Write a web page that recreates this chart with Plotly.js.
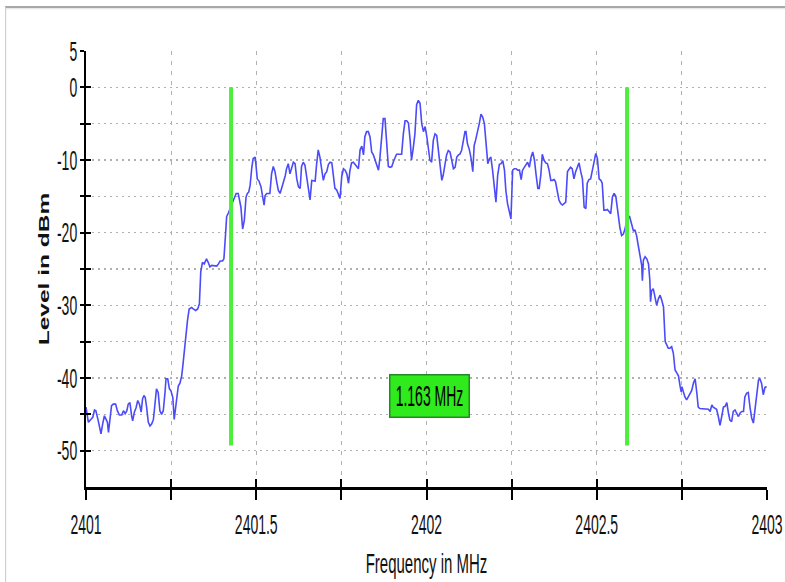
<!DOCTYPE html>
<html>
<head>
<meta charset="utf-8">
<script src="https://cdn.plot.ly/plotly-3.0.1.min.js"></script>
<style>
  html, body { margin: 0; padding: 0; background: #ffffff; }
  #frame { position: absolute; left: 5px; top: 6px; width: 800px; height: 600px;
           border-top: 2px solid #a8a8a8; border-left: 1px solid #cfcfcf;
           box-shadow: inset 0 1px 2px #e2e2e2; }
  #chart { position: absolute; left: 0; top: 0; width: 785px; height: 582px; }
</style>
</head>
<body>
<div id="frame"></div>
<div id="chart"></div>
<script>
// ---- data ----
const freqMHz = [
2401.000,2401.007,2401.014,2401.020,2401.025,2401.029,2401.036,2401.041,2401.044,2401.049,
2401.054,2401.059,2401.063,2401.066,2401.071,2401.075,2401.080,2401.087,2401.092,2401.098,
2401.105,2401.110,2401.115,2401.120,2401.124,2401.129,2401.134,2401.137,2401.142,2401.147,
2401.152,2401.157,2401.162,2401.166,2401.170,2401.174,2401.178,2401.183,2401.188,2401.193,
2401.198,2401.203,2401.207,2401.212,2401.217,2401.222,2401.227,2401.232,2401.235,2401.240,
2401.245,2401.249,2401.255,2401.259,2401.266,2401.271,2401.276,2401.281,2401.284,2401.291,
2401.298,2401.303,2401.310,2401.315,2401.322,2401.328,2401.333,2401.337,2401.342,2401.347,
2401.354,2401.359,2401.364,2401.369,2401.376,2401.384,2401.389,2401.394,2401.401,2401.405,
2401.410,2401.413,2401.418,2401.423,2401.428,2401.433,2401.441,2401.447,2401.452,2401.455,
2401.460,2401.465,2401.470,2401.474,2401.478,2401.482,2401.487,2401.491,2401.497,2401.503,
2401.508,2401.514,2401.519,2401.523,2401.526,2401.531,2401.540,2401.545,2401.550,2401.555,
2401.560,2401.565,2401.570,2401.575,2401.580,2401.585,2401.589,2401.594,2401.599,2401.604,
2401.609,2401.614,2401.619,2401.624,2401.629,2401.633,2401.638,2401.643,2401.648,2401.653,
2401.658,2401.663,2401.668,2401.673,2401.677,2401.682,2401.687,2401.692,2401.697,2401.702,
2401.707,2401.712,2401.717,2401.722,2401.726,2401.731,2401.736,2401.741,2401.746,2401.751,
2401.756,2401.761,2401.766,2401.771,2401.775,2401.780,2401.785,2401.790,2401.795,2401.800,
2401.805,2401.810,2401.815,2401.819,2401.824,2401.829,2401.834,2401.839,2401.844,2401.849,
2401.854,2401.859,2401.863,2401.868,2401.873,2401.878,2401.883,2401.888,2401.893,2401.898,
2401.903,2401.908,2401.912,2401.922,2401.927,2401.932,2401.937,2401.942,2401.947,2401.952,
2401.956,2401.961,2401.966,2401.971,2401.976,2401.981,2401.986,2401.991,2401.996,2402.001,
2402.005,2402.010,2402.015,2402.020,2402.025,2402.030,2402.035,2402.040,2402.045,2402.049,
2402.054,2402.059,2402.064,2402.069,2402.074,2402.079,2402.084,2402.089,2402.094,2402.098,
2402.103,2402.108,2402.113,2402.116,2402.120,2402.126,2402.131,2402.136,2402.140,2402.144,
2402.149,2402.155,2402.160,2402.165,2402.170,2402.175,2402.180,2402.185,2402.189,2402.194,
2402.199,2402.204,2402.209,2402.214,2402.219,2402.224,2402.229,2402.233,2402.238,2402.243,
2402.248,2402.253,2402.258,2402.263,2402.268,2402.273,2402.278,2402.282,2402.287,2402.292,
2402.297,2402.302,2402.307,2402.312,2402.317,2402.322,2402.327,2402.331,2402.336,2402.340,
2402.345,2402.350,2402.355,2402.360,2402.365,2402.370,2402.375,2402.379,2402.384,2402.389,
2402.394,2402.399,2402.404,2402.409,2402.414,2402.419,2402.423,2402.428,2402.433,2402.438,
2402.443,2402.448,2402.453,2402.458,2402.463,2402.468,2402.472,2402.477,2402.482,2402.487,
2402.492,2402.497,2402.502,2402.507,2402.512,2402.516,2402.521,2402.526,2402.531,2402.536,
2402.541,2402.546,2402.551,2402.556,2402.560,2402.568,2402.573,2402.578,2402.583,2402.588,
2402.596,2402.603,2402.608,2402.612,2402.617,2402.622,2402.627,2402.632,2402.634,2402.637,
2402.642,2402.647,2402.652,2402.656,2402.658,2402.661,2402.666,2402.671,2402.676,2402.681,
2402.686,2402.691,2402.696,2402.701,2402.705,2402.710,2402.715,2402.720,2402.725,2402.730,
2402.735,2402.740,2402.745,2402.748,2402.750,2402.754,2402.759,2402.764,2402.769,2402.774,
2402.779,2402.784,2402.789,2402.794,2402.798,2402.803,2402.813,2402.818,2402.823,2402.828,
2402.833,2402.838,2402.842,2402.847,2402.852,2402.857,2402.862,2402.867,2402.872,2402.877,
2402.882,2402.887,2402.891,2402.896,2402.901,2402.906,2402.911,2402.916,2402.921,2402.926,
2402.931,2402.935,2402.940,2402.945,2402.950,2402.955,2402.960,2402.965,2402.970,2402.975,
2402.979,2402.984,2402.989,2402.994,2402.999
];
const levelDBm = [
-44.0,-46.1,-45.7,-45.4,-44.4,-44.5,-45.9,-46.8,-47.7,-46.3,
-45.2,-45.7,-46.1,-47.5,-45.2,-43.8,-43.6,-43.6,-44.5,-45.1,
-45.1,-44.5,-44.9,-44.5,-43.6,-43.4,-45.2,-45.9,-44.7,-44.1,
-43.1,-43.6,-44.7,-42.9,-42.4,-42.7,-44.0,-46.1,-46.6,-46.3,
-45.7,-43.1,-41.5,-42.0,-44.5,-45.0,-44.5,-42.0,-40.1,-40.1,
-41.5,-41.7,-42.7,-45.7,-42.7,-41.1,-40.7,-39.7,-38.5,-34.9,
-32.1,-30.5,-30.3,-30.5,-30.7,-30.5,-29.8,-25.4,-24.1,-24.3,
-23.6,-24.1,-24.7,-24.5,-24.5,-24.6,-24.3,-23.9,-23.9,-23.6,
-20.1,-17.8,-17.3,-16.7,-16.0,-15.3,-14.6,-14.6,-15.8,-16.5,
-19.5,-18.3,-15.1,-14.6,-14.4,-13.5,-11.0,-9.8,-9.6,-12.6,
-12.9,-13.7,-15.1,-16.2,-14.9,-14.6,-14.6,-11.9,-10.9,-11.6,
-13.0,-14.2,-14.6,-13.9,-13.1,-12.2,-11.2,-10.5,-11.9,-10.9,
-10.3,-10.5,-12.6,-13.7,-13.9,-10.9,-10.3,-10.7,-12.1,-13.9,
-15.5,-12.8,-12.8,-12.9,-10.7,-8.6,-9.6,-11.6,-12.8,-11.9,
-11.6,-10.6,-10.3,-10.4,-12.1,-13.9,-14.1,-14.6,-15.3,-12.3,
-11.2,-11.4,-11.9,-13.2,-11.5,-10.4,-10.3,-10.6,-11.0,-11.2,
-8.6,-8.1,-9.3,-6.8,-6.1,-6.1,-6.8,-8.9,-9.3,-10.0,
-10.7,-11.4,-9.8,-7.3,-4.3,-4.3,-7.3,-10.9,-11.0,-10.9,
-10.2,-9.6,-9.2,-9.2,-9.2,-6.4,-4.6,-4.6,-4.9,-7.3,
-10.0,-8.4,-6.4,-2.4,-1.8,-2.2,-5.0,-6.1,-5.4,-6.8,
-8.2,-10.0,-10.3,-7.3,-6.4,-6.6,-8.7,-11.2,-12.8,-12.1,
-10.5,-9.3,-8.7,-8.9,-10.0,-11.2,-11.0,-9.6,-9.3,-9.2,
-8.7,-7.3,-6.1,-6.1,-7.7,-8.6,-9.8,-11.6,-8.0,-7.3,
-6.4,-5.0,-3.7,-4.1,-5.0,-7.7,-10.5,-9.8,-9.6,-11.4,
-14.2,-15.8,-12.1,-10.6,-10.5,-10.1,-11.4,-14.2,-16.0,-16.9,
-18.1,-11.4,-11.2,-11.2,-11.4,-11.4,-12.7,-11.4,-11.0,-10.7,
-10.3,-11.0,-9.6,-8.9,-10.0,-12.1,-13.9,-13.9,-11.9,-9.2,
-10.0,-10.4,-10.5,-11.4,-12.8,-12.8,-12.7,-13.0,-14.2,-15.5,
-16.0,-16.2,-16.0,-15.8,-11.6,-11.2,-11.0,-11.2,-12.6,-11.6,
-11.0,-10.4,-11.6,-12.6,-16.5,-16.7,-13.2,-12.7,-12.6,-11.6,
-10.3,-9.1,-9.8,-12.6,-12.8,-13.2,-16.9,-16.9,-16.8,-17.1,
-17.4,-15.1,-14.6,-15.0,-16.7,-19.3,-20.4,-20.2,-19.5,-18.3,
-17.7,-18.8,-19.8,-19.6,-20.4,-21.8,-23.1,-24.5,-26.6,-23.8,
-23.3,-23.6,-24.3,-26.6,-29.5,-28.0,-27.7,-28.9,-30.0,-29.1,
-28.6,-29.3,-30.2,-35.0,-35.5,-35.9,-35.9,-35.7,-36.6,-38.9,
-39.3,-39.7,-41.2,-41.9,-41.2,-41.9,-42.6,-43.0,-42.6,-42.0,
-41.7,-40.7,-40.1,-42.1,-44.0,-44.2,-44.2,-44.3,-44.2,-44.3,
-44.6,-43.7,-44.0,-44.1,-44.3,-45.3,-46.5,-45.3,-44.0,-43.9,
-43.4,-44.9,-45.8,-46.0,-44.6,-44.4,-44.9,-45.3,-44.8,-44.6,
-44.6,-42.6,-42.1,-42.0,-44.0,-45.5,-46.2,-44.0,-42.1,-40.3,
-40.1,-40.7,-42.3,-41.3,-41.2
];
const markerFreqs = [2401.426, 2402.589];   // occupied-bandwidth markers
const markerTop = 0;
const markerBottom = -49.3;
const labelLevel = -42.5;
const xTickVals = [2401, 2401.25, 2401.5, 2401.75, 2402, 2402.25, 2402.5, 2402.75, 2403];
const xTickText = ['2401', '', '2401.5', '', '2402', '', '2402.5', '', '2403'];
const yTickVals = [5, 0, -5, -10, -15, -20, -25, -30, -35, -40, -45, -50];
const yTickText = ['5', '0', '', '-10', '', '-20', '', '-30', '', '-40', '', '-50'];
const xRange = [2401, 2403];
const yRange = [-55, 5];
const xTitle = 'Frequency in MHz';
const yTitle = 'Level in dBm';

// ---- build traces ----
const mx = [], my = [];
markerFreqs.forEach((f, i) => {
  if (i) { mx.push(null); my.push(null); }
  mx.push(f, f); my.push(markerTop, markerBottom);
});
const bw = markerFreqs[1] - markerFreqs[0];
const labelText = bw.toFixed(3) + ' MHz';
const labelX = (markerFreqs[0] + markerFreqs[1]) / 2;

const FONT = 'Liberation Sans, Arial, sans-serif';

const traces = [
  { x: freqMHz, y: levelDBm, type: 'scatter', mode: 'lines',
    line: { color: '#4b4bfa', width: 1.6 }, hoverinfo: 'skip', showlegend: false },
  { x: mx, y: my, type: 'scatter', mode: 'lines', xaxis: 'x2', yaxis: 'y2',
    line: { color: '#4cf03c', width: 4 }, hoverinfo: 'skip', showlegend: false }
];

const layout = {
  width: 785, height: 582,
  margin: { l: 86, r: 18, t: 51, b: 95 },
  paper_bgcolor: 'rgba(0,0,0,0)', plot_bgcolor: 'rgba(0,0,0,0)',
  font: { family: FONT, color: '#111111', size: 14 },
  showlegend: false,
  xaxis: {
    range: xRange, tickmode: 'array', tickvals: xTickVals, ticktext: xTickText,
    showline: true, linecolor: '#000000', linewidth: 3,
    ticks: 'outside', ticklen: 10, tickwidth: 2, tickcolor: '#000000',
    ticklabelstandoff: 12,
    showgrid: true, gridcolor: '#b0b0b0', gridwidth: 1.2, griddash: '4px,6px',
    zeroline: false,
    tickfont: { family: FONT, size: 14, color: '#111111' },
    title: { text: xTitle, font: { family: FONT, size: 15, color: '#111111' }, standoff: 28 }
  },
  yaxis: {
    range: yRange, tickmode: 'array', tickvals: yTickVals, ticktext: yTickText,
    showline: true, linecolor: '#000000', linewidth: 2,
    ticks: 'outside', ticklen: 4, tickwidth: 2, tickcolor: '#000000',
    ticklabelstandoff: 0,
    showgrid: true, gridcolor: '#b0b0b0', gridwidth: 1.4, griddash: '2px,4px',
    zeroline: false,
    tickfont: { family: FONT, size: 14, color: '#111111' },
    title: { text: yTitle, font: { family: FONT, size: 14, color: '#111111', weight: 'bold' }, standoff: 4 }
  },
  xaxis2: {
    overlaying: 'x', anchor: 'y2', side: 'bottom', range: xRange,
    tickmode: 'array', tickvals: xTickVals, ticks: 'inside', ticklen: 8, tickwidth: 2,
    tickcolor: '#000000', showticklabels: false, showgrid: false, zeroline: false, showline: false
  },
  yaxis2: {
    overlaying: 'y', anchor: 'x2', side: 'left', range: yRange,
    tickmode: 'array', tickvals: yTickVals, ticks: 'inside', ticklen: 5, tickwidth: 2,
    tickcolor: '#000000', showticklabels: false, showgrid: false, zeroline: false, showline: false
  },
  annotations: [{
    x: labelX, y: labelLevel, xref: 'x', yref: 'y', text: labelText, showarrow: false,
    bgcolor: '#2fea1c', bordercolor: '#228a22', borderwidth: 1.5,
    width: 76, height: 39, align: 'center', valign: 'middle',
    font: { family: FONT, size: 14, color: '#000000' }
  }]
};

function stretch(sel, sx, sy) {
  document.querySelectorAll(sel).forEach(t => {
    const b = t.getBBox();
    if (!b.width) return;
    const cx = b.x + b.width / 2, cy = b.y + b.height / 2;
    const orig = t.getAttribute('transform') || '';
    t.setAttribute('transform',
      orig + ' translate(' + cx + ',' + cy + ') scale(' + sx + ',' + sy + ') translate(' + (-cx) + ',' + (-cy) + ')');
  });
}

Plotly.newPlot('chart', traces, layout, { staticPlot: true, displayModeBar: false }).then(() => {
  // the reference lettering is tall and narrow
  stretch('#chart .xtick text', 1, 1.95);
  stretch('#chart .ytick text', 1, 1.95);
  stretch('#chart text.xtitle', 1, 1.8);
  stretch('#chart text.ytitle', 1.75, 1);
  stretch('#chart .annotation-text', 1, 2.05);
});
</script>
</body>
</html>
